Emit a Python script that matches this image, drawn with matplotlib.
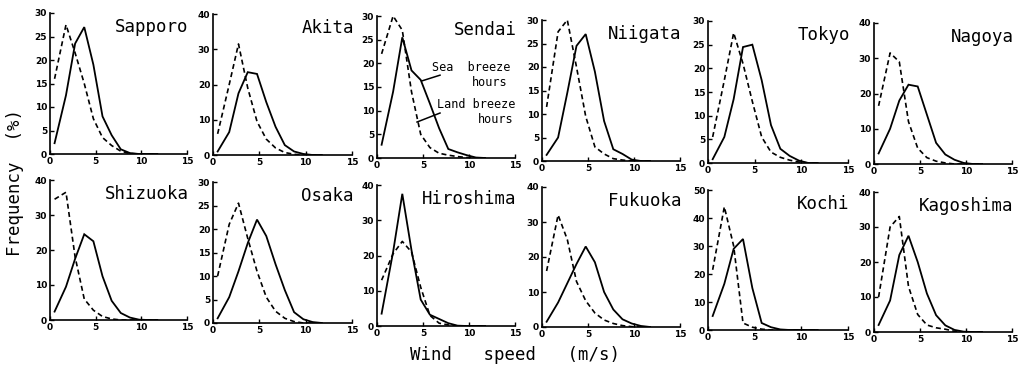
import matplotlib
matplotlib.use("Agg")
import matplotlib.pyplot as plt

# wind speed class points (m/s)
speed = [0.5, 1.75, 2.75, 3.75, 4.75, 5.75, 6.75, 7.75, 8.75, 9.75, 10.75, 11.75]

stations = ["Sapporo", "Akita", "Sendai", "Niigata", "Tokyo", "Nagoya",
            "Shizuoka", "Osaka", "Hiroshima", "Fukuoka", "Kochi", "Kagoshima"]
ymax = [30, 40, 30, 30, 30, 40, 40, 30, 40, 40, 50, 40]
ystep = [5, 10, 5, 5, 5, 10, 10, 5, 10, 10, 10, 10]

# sea breeze hours (solid)
sea_sapporo = [2.3, 12.5, 23.5, 27, 19, 8, 4, 1, 0.2, 0, 0, 0]
sea_akita = [1, 6.5, 17.5, 23.5, 23, 15, 8, 2.8, 1, 0.3, 0, 0]
sea_sendai = [2.8, 14, 25.5, 18.5, 16.5, 11.5, 6.3, 1.9, 1.2, 0.6, 0.1, 0]
sea_niigata = [1.3, 5, 14.5, 24.5, 27, 19, 8.5, 2.5, 1.5, 0.3, 0, 0]
sea_tokyo = [0.8, 5.5, 13.5, 24.5, 25, 17.5, 8, 3, 1.5, 0.5, 0, 0]
sea_nagoya = [3, 10, 18, 22.5, 22, 14, 6, 2.7, 1.2, 0.3, 0, 0]
sea_shizuoka = [2.4, 9.5, 17.5, 24.5, 22.5, 12.5, 5.5, 2, 0.7, 0.1, 0, 0]
sea_osaka = [1, 5.5, 11, 17, 22, 18.5, 12.5, 7, 2.3, 0.8, 0.2, 0]
sea_hiroshima = [3.5, 21, 37.5, 21.5, 7.5, 3.2, 2, 0.8, 0.1, 0, 0, 0]
sea_fukuoka = [1.5, 7, 12.5, 18, 23, 18.5, 10, 5, 2.2, 1, 0.3, 0]
sea_kochi = [5, 16.5, 29, 32.5, 15, 2.5, 1, 0.2, 0, 0, 0, 0]
sea_kagoshima = [2, 9, 22, 27.5, 20, 11, 4.8, 1.9, 0.6, 0.1, 0, 0]

# land breeze hours (dashed)
land_sapporo = [16, 27.5, 21.5, 15, 7.5, 3.5, 1.8, 0.6, 0.1, 0, 0, 0]
land_akita = [6, 20, 31.5, 19, 9.5, 4.5, 2, 0.7, 0.2, 0, 0, 0]
land_sendai = [22, 30, 27, 14, 5, 2.2, 1, 0.6, 0.3, 0.1, 0, 0]
land_niigata = [11.5, 27.5, 30, 20, 9.5, 3, 1.5, 0.5, 0.2, 0, 0, 0]
land_tokyo = [5.5, 17.5, 27.5, 21, 13, 5.5, 2.3, 1.2, 0.6, 0.2, 0, 0]
land_nagoya = [16.5, 31.5, 29, 12, 4.5, 1.8, 0.8, 0.3, 0, 0, 0, 0]
land_shizuoka = [34.5, 36.5, 18, 6, 2.8, 1, 0.3, 0, 0, 0, 0, 0]
land_osaka = [10, 21, 25.5, 18, 11, 5.5, 2.5, 1, 0.3, 0, 0, 0]
land_hiroshima = [13, 20.5, 24, 21, 11, 3, 0.8, 0.3, 0, 0, 0, 0]
land_fukuoka = [16, 32, 25, 13, 7.5, 4, 2, 1, 0.4, 0.1, 0, 0]
land_kochi = [21.5, 44, 30, 2.5, 1, 0.3, 0, 0, 0, 0, 0, 0]
land_kagoshima = [10, 30, 33, 13, 5, 2, 1.2, 0.8, 0.2, 0, 0, 0]

sea = [sea_sapporo, sea_akita, sea_sendai, sea_niigata, sea_tokyo, sea_nagoya,
       sea_shizuoka, sea_osaka, sea_hiroshima, sea_fukuoka, sea_kochi, sea_kagoshima]
land = [land_sapporo, land_akita, land_sendai, land_niigata, land_tokyo, land_nagoya,
        land_shizuoka, land_osaka, land_hiroshima, land_fukuoka, land_kochi, land_kagoshima]

# panel pixel boxes (left, right, top, bottom) - the scan is a bit slanted
lefts = [50, 213, 377, 542, 708, 874]
rights = [187, 352, 515, 680, 848, 1012]
tops = [[13, 14, 16, 20, 21, 23], [180, 182, 185, 187, 190, 192]]
bottoms = [[154, 155, 158, 161, 163, 164], [320, 323, 326, 327, 330, 332]]

W, H = 1024, 373
fig = plt.figure(figsize=(W / 100, H / 100), dpi=100)
mono = "DejaVu Sans Mono"

for k, name in enumerate(stations):
    r, c = divmod(k, 6)
    x0, x1 = lefts[c], rights[c]
    t, b = tops[r][c], bottoms[r][c]
    ax = fig.add_axes([x0 / W, 1 - b / H, (x1 - x0) / W, (b - t) / H])
    ax.plot(speed, sea[k], color="black", lw=1.3, solid_joinstyle="miter")
    ax.plot(speed, land[k], color="black", lw=1.2, linestyle=(0, (3, 2)))
    ax.set_xlim(0, 15)
    ax.set_ylim(0, ymax[k])
    ax.set_xticks([0, 5, 10, 15])
    ax.set_yticks(range(0, ymax[k] + 1, ystep[k]))
    for s in ["top", "right"]:
        ax.spines[s].set_visible(False)
    for s in ["left", "bottom"]:
        ax.spines[s].set_linewidth(1.2)
    ax.tick_params(direction="in", length=3, width=1, pad=2)
    for lab in ax.get_xticklabels() + ax.get_yticklabels():
        lab.set_fontsize(6.5)
        lab.set_fontweight("bold")
    ax.patch.set_alpha(0)
    ax.text(15.2, ymax[k] * 0.965, name, ha="right", va="top",
            fontsize=12.5, family=mono, clip_on=False)

    if name == "Sendai":
        ax.text(6.0, 19.2, "Sea  breeze", fontsize=8.5, family=mono, va="center")
        ax.text(10.3, 16.0, "hours", fontsize=8.5, family=mono, va="center")
        ax.text(6.5, 11.2, "Land breeze", fontsize=8.5, family=mono, va="center")
        ax.text(11.0, 8.2, "hours", fontsize=8.5, family=mono, va="center")
        ax.plot([6.85, 4.9], [17.5, 16.3], color="black", lw=1.1)
        ax.plot([6.85, 4.35], [9.5, 7.6], color="black", lw=1.1)

fig.text(15 / W, 1 - 182 / H, "Frequency  (%)", rotation=90, ha="center",
         va="center", fontsize=12.5, family=mono)
fig.text(515 / W, 1 - 355 / H, "Wind   speed   (m/s)", ha="center",
         va="center", fontsize=12.5, family=mono)

fig.savefig("out.png", dpi=100)
